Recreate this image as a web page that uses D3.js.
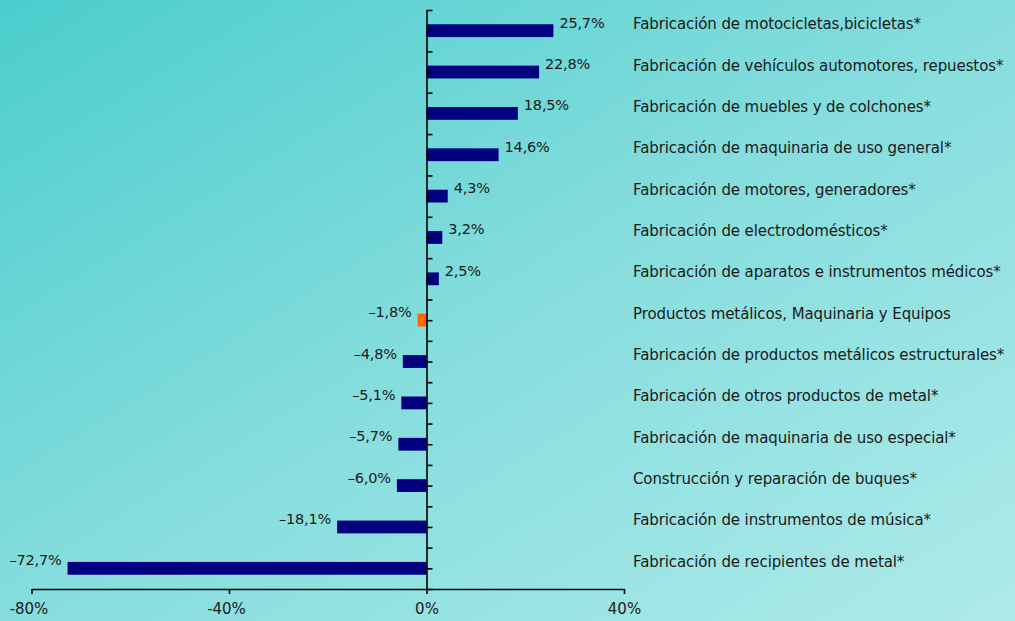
<!DOCTYPE html>
<html>
<head>
<meta charset="utf-8">
<script src="https://cdn.jsdelivr.net/npm/d3@7"></script>
<style>
  body { margin: 0; padding: 0; overflow: hidden; }
  svg { display: block; font-family: "DejaVu Sans", sans-serif; }
</style>
</head>
<body>
<div id="wrapper"></div>
<script>
// data
const categories = [
  "Fabricación de motocicletas,bicicletas*",
  "Fabricación de vehículos automotores, repuestos*",
  "Fabricación de muebles y de colchones*",
  "Fabricación de maquinaria de uso general*",
  "Fabricación de motores, generadores*",
  "Fabricación de electrodomésticos*",
  "Fabricación de aparatos e instrumentos médicos*",
  "Productos metálicos, Maquinaria y Equipos",
  "Fabricación de productos metálicos estructurales*",
  "Fabricación de otros productos de metal*",
  "Fabricación de maquinaria de uso especial*",
  "Construcción y reparación de buques*",
  "Fabricación de instrumentos de música*",
  "Fabricación de recipientes de metal*"
]
const values = [25.7, 22.8, 18.5, 14.6, 4.3, 3.2, 2.5, -1.8, -4.8, -5.1, -5.7, -6.0, -18.1, -72.7]
const highlight = "Productos metálicos, Maquinaria y Equipos"
const xTicks = [-80, -40, 0, 40]

const dataset = categories.map((c, i) => ({category: c, value: values[i]}))

const width = 1015
const height = 621
const plot = {top: 10, bottom: 589, left: 31.5, right: 624}

const svg = d3.select("#wrapper")
  .append("svg")
    .attr("width", width)
    .attr("height", height)

// background gradient
const grad = svg.append("defs").append("linearGradient")
    .attr("id", "bg")
    .attr("x1", 0).attr("y1", 0)
    .attr("x2", 1).attr("y2", 1)
grad.append("stop").attr("offset", "0%").attr("stop-color", "#4bcdcd")
grad.append("stop").attr("offset", "50%").attr("stop-color", "#86dddd")
grad.append("stop").attr("offset", "100%").attr("stop-color", "#aeeaea")

svg.append("rect")
    .attr("width", width)
    .attr("height", height)
    .attr("fill", "url(#bg)")

const x = d3.scaleLinear()
  .domain([-80, 40])
  .range([plot.left, plot.right])

const y = d3.scaleBand()
  .domain(categories)
  .range([plot.top, plot.bottom])
  .paddingInner(0.69)
  .paddingOuter(0.345)

const center = d => y(d.category) + y.bandwidth() / 2

// bars
svg.append("g")
  .selectAll("rect")
  .data(dataset)
  .enter().append("rect")
    .attr("x", d => x(Math.min(0, d.value)))
    .attr("y", d => y(d.category))
    .attr("width", d => Math.abs(x(d.value) - x(0)))
    .attr("height", y.bandwidth())
    .attr("fill", d => d.category === highlight ? "#ff6600" : "#000080")

// value labels
const fmt = v => (v < 0 ? "\u2013" : "") + Math.abs(v).toFixed(1).replace(".", ",") + "%"
svg.append("g")
  .selectAll("text")
  .data(dataset)
  .enter().append("text")
    .attr("x", d => d.value >= 0 ? x(d.value) + 6 : x(d.value) - 6)
    .attr("y", d => center(d) - 3)
    .attr("text-anchor", d => d.value >= 0 ? "start" : "end")
    .attr("font-size", 14.5)
    .attr("letter-spacing", -0.2)
    .attr("fill", "#1a1a1a")
    .text(d => fmt(d.value))

// category labels on the right
svg.append("g")
  .selectAll("text")
  .data(dataset)
  .enter().append("text")
    .attr("x", 633)
    .attr("y", d => center(d) - 1.5)
    .attr("font-size", 15)
    .attr("letter-spacing", -0.1)
    .attr("fill", "#1a1a1a")
    .text(d => d.category)

// vertical axis at zero with half-step ticks
const yTick = d3.scaleLinear().domain([0, categories.length]).range([plot.top, plot.bottom])
svg.append("g")
    .attr("transform", `translate(${x(0)},0)`)
    .call(d3.axisRight(yTick)
      .tickValues(d3.range(0, categories.length + 0.01, 0.5))
      .tickSize(6)
      .tickSizeOuter(0)
      .tickFormat(""))
    .call(g => g.selectAll("line, path").attr("stroke", "#000").attr("stroke-width", 1.6))

// bottom axis
svg.append("g")
    .attr("transform", `translate(0,${plot.bottom})`)
    .call(d3.axisBottom(x)
      .tickValues(xTicks)
      .tickSize(5)
      .tickSizeOuter(0)
      .tickFormat(d => (d < 0 ? "-" + Math.abs(d) : d) + "%"))
    .call(g => g.selectAll("line, path").attr("stroke", "#000").attr("stroke-width", 1.6))
    .call(g => g.selectAll("text")
      .attr("font-family", "DejaVu Sans")
      .attr("font-size", 15)
      .attr("fill", "#1a1a1a")
      .attr("x", d => d < 0 ? -3 : 0)
      .attr("dy", "1.15em"))
</script>
</body>
</html>
